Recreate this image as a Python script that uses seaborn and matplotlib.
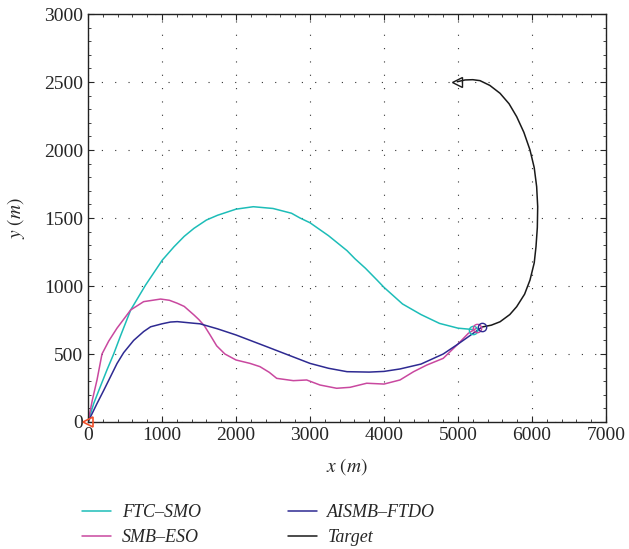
import matplotlib
matplotlib.use('Agg')
import matplotlib.pyplot as plt
from matplotlib.ticker import AutoMinorLocator
import seaborn as sns
import pandas as pd

# trajectories (x, y in m)
ftc_x = [0, 77, 167, 257, 347, 437, 577, 778, 1005, 1163, 1300, 1432, 1600, 1750,
         2000, 2234, 2500, 2750, 2865, 3000, 3250, 3500, 3608, 3750, 3905, 4000,
         4250, 4500, 4750, 5000, 5200]
ftc_y = [0, 136, 261, 384, 500, 630, 824, 1007, 1191, 1289, 1365, 1424, 1485, 1520,
         1565, 1583, 1570, 1535, 1500, 1465, 1370, 1260, 1200, 1130, 1044, 990,
         868, 790, 725, 690, 680]

smb_x = [0, 58, 122, 189, 280, 392, 577, 752, 981, 1100, 1207, 1300, 1432, 1500,
         1573, 1650, 1739, 1850, 2000, 2189, 2324, 2450, 2550, 2775, 2955, 3135,
         3360, 3541, 3766, 4000, 4216, 4400, 4575, 4800, 4986, 5140, 5250]
smb_y = [0, 160, 310, 500, 595, 690, 824, 885, 904, 895, 873, 850, 787, 752,
         707, 640, 560, 500, 456, 431, 407, 365, 321, 304, 309, 272,
         248, 255, 285, 279, 309, 370, 418, 468, 566, 652, 690]

ai_x = [0, 122, 212, 303, 392, 482, 617, 752, 846, 1000, 1114, 1206, 1432, 1514,
        1750, 2000, 2414, 3000, 3250, 3500, 3800, 4000, 4216, 4500, 4800, 5000,
        5200, 5330]
ai_y = [0, 136, 232, 332, 430, 510, 600, 665, 700, 722, 735, 738, 726, 722,
        685, 640, 554, 431, 395, 370, 367, 372, 390, 426, 500, 573,
        650, 700]

tg_x = [5340, 5450, 5568, 5700, 5793, 5900, 5973, 6030, 6054, 6072, 6077, 6063,
        6030, 5973, 5890, 5793, 5690, 5568, 5430, 5297, 5200, 5095, 4990]
tg_y = [700, 712, 737, 790, 848, 940, 1044, 1170, 1289, 1430, 1583, 1730,
        1870, 2000, 2130, 2245, 2340, 2417, 2475, 2510, 2517, 2515, 2502]

labels = ['FTC\u2013SMO', 'SMB\u2013ESO', 'AISMB\u2013FTDO', 'Target']
colors = ['#1DBDB8', '#C9489F', '#2E2A92', '#1A1A1A']

sns.set_style('ticks')
plt.rcParams['font.family'] = ['Liberation Serif', 'DejaVu Serif']
plt.rcParams['mathtext.fontset'] = 'stix'

fig = plt.figure(figsize=(6.29, 5.49), dpi=100)
ax = fig.add_axes([88 / 629, 1 - 422 / 549, 518 / 629, 408 / 549])

series = [(ftc_x, ftc_y), (smb_x, smb_y), (ai_x, ai_y), (tg_x, tg_y)]
for (xs, ys), lab, c in zip(series, labels, colors):
    df = pd.DataFrame({'x': xs, 'y': ys})
    sns.lineplot(data=df, x='x', y='y', sort=False, estimator=None, color=c,
                 lw=1.1, label=lab, ax=ax)

# end / start markers
for (xs, ys), c in zip(series[:3], colors[:3]):
    ax.plot(xs[-1], ys[-1], 'o', ms=6, mfc='none', mec=c, mew=1)
ax.plot(0, 0, '<', ms=7, mfc='none', mec='#F0502A', mew=1.2, clip_on=False, zorder=5)
ax.plot(tg_x[-1], tg_y[-1], '<', ms=7, mfc='none', mec='#1A1A1A', mew=1)

ax.set_xlim(0, 7000)
ax.set_ylim(0, 3000)
ax.set_xticks(range(0, 7001, 1000))
ax.set_yticks(range(0, 3001, 500))
ax.xaxis.set_minor_locator(AutoMinorLocator(5))
ax.yaxis.set_minor_locator(AutoMinorLocator(5))
ax.tick_params(which='both', direction='in', top=True, right=True, labelsize=14)
ax.tick_params(which='major', length=4)
ax.tick_params(which='minor', length=2)
ax.grid(True, which='major', color='#333333', linestyle=(0, (1, 11)), linewidth=0.8)
for s in ax.spines.values():
    s.set_linewidth(1.0)
    s.set_color('#222222')

ax.set_xlabel(r'$x\ (m)$', fontsize=14, labelpad=9)
ax.set_ylabel(r'$y\ (m)$', fontsize=14, labelpad=12)

ax.get_legend().remove()
h, l = ax.get_legend_handles_labels()
fig.legend(h, l, loc='center left', bbox_to_anchor=(66 / 629, 1 - 525 / 549), ncol=2,
           frameon=False, prop={'family': 'Liberation Serif', 'style': 'italic', 'size': 13},
           handlelength=1.6, handletextpad=0.6, columnspacing=4.8, labelspacing=0.45)

fig.savefig('out.png', dpi=100)
